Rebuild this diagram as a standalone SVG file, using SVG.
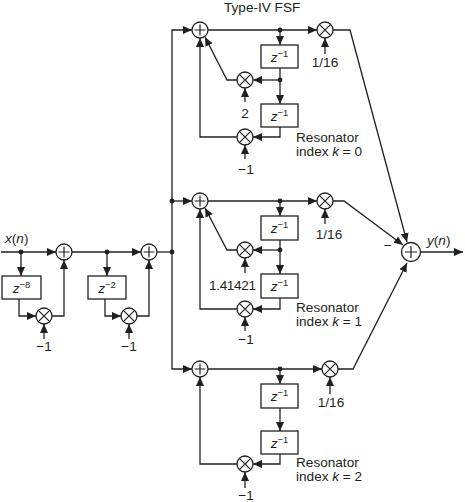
<svg xmlns="http://www.w3.org/2000/svg" width="465" height="502" viewBox="0 0 465 502">
<style>
.l{fill:none;stroke:#231f20;stroke-width:1.3}
.a{fill:none;stroke:#231f20;stroke-width:1.3;marker-end:url(#ah)}
.n{fill:#fff;stroke:#231f20;stroke-width:1.3}
.s{fill:none;stroke:#231f20;stroke-width:1.2}
.d{fill:#231f20}
text{font-family:"Liberation Sans",Arial,sans-serif;font-size:13.600px;fill:#231f20}
.i{font-style:italic}
.m{text-anchor:middle}
tspan.e{font-size:9.500px}
</style>
<defs>
<marker id="ah" markerUnits="userSpaceOnUse" markerWidth="10" markerHeight="10" refX="9" refY="5" orient="auto"><path d="M0 1L9 5L0 9Z" fill="#231f20"/></marker>
<g id="plus"><circle class="n" r="8"/><path class="s" d="M-5.500 0H5.500M0 -5.500V5.500"/></g>
<g id="times"><circle class="n" r="8"/><path class="s" d="M-5.700 -5.700L5.700 5.700M-5.700 5.700L5.700 -5.700"/></g>
</defs>
<g id="connectors">
<path class="a" d="M1 252H56"/>
<path class="a" d="M21 252V276"/>
<path class="a" d="M19 299V316H36"/>
<path class="a" d="M52 316H64V260"/>
<path class="a" d="M44 339V324"/>
<path class="a" d="M72 252H141"/>
<path class="a" d="M107 252V276"/>
<path class="a" d="M105 299V316H121"/>
<path class="a" d="M137 316H149V260"/>
<path class="a" d="M129 339V324"/>
<path class="l" d="M157 252H172"/>
<path class="a" d="M172 251V30H192"/>
<path class="a" d="M172 201H192"/>
<path class="a" d="M172 251V369H192"/>
<path class="a" d="M208 30H317"/>
<path class="a" d="M280 30V45"/>
<path class="a" d="M280 68V104"/>
<path class="a" d="M280 80H253"/>
<path class="a" d="M237 80H227L205 37"/>
<path class="a" d="M280 127V137H253"/>
<path class="a" d="M237 137H200V38"/>
<path class="a" d="M325 54V38"/>
<path class="a" d="M245 102V88"/>
<path class="a" d="M245 159V145"/>
<path class="a" d="M333 30H350L407 242"/>
<path class="a" d="M208 201H317"/>
<path class="a" d="M280 201V216"/>
<path class="a" d="M280 240V274"/>
<path class="a" d="M280 250H253"/>
<path class="a" d="M237 250H227L205 208"/>
<path class="a" d="M280 298V309H253"/>
<path class="a" d="M237 309H200V209"/>
<path class="a" d="M325 224V209"/>
<path class="a" d="M245 273V258"/>
<path class="a" d="M245 331V317"/>
<path class="a" d="M333 201H344L403 245"/>
<path class="a" d="M208 369H322"/>
<path class="a" d="M280 369V384"/>
<path class="a" d="M280 408V431"/>
<path class="a" d="M280 454V464H253"/>
<path class="a" d="M237 464H200V377"/>
<path class="a" d="M330 394V377"/>
<path class="a" d="M245 488V472"/>
<path class="a" d="M338 369H353L407 263"/>
<path class="a" d="M420 252H463"/>
</g>
<g id="dots">
<circle class="d" cx="21" cy="252" r="2.400"/><circle class="d" cx="107" cy="252" r="2.400"/><circle class="d" cx="172" cy="252" r="2.400"/><circle class="d" cx="172" cy="201" r="2.400"/>
<circle class="d" cx="280" cy="30" r="2.400"/><circle class="d" cx="280" cy="80" r="2.400"/>
<circle class="d" cx="280" cy="201" r="2.400"/><circle class="d" cx="280" cy="250" r="2.400"/>
<circle class="d" cx="280" cy="369" r="2.400"/>
</g>
<g id="add1"><use href="#plus" x="64" y="252"/></g>
<g id="add2"><use href="#plus" x="149" y="252"/></g>
<g id="add-k0"><use href="#plus" x="200" y="30"/></g>
<g id="add-k1"><use href="#plus" x="200" y="201"/></g>
<g id="add-k2"><use href="#plus" x="200" y="369"/></g>
<g id="add-out"><circle class="n" cx="411" cy="252" r="9.500"/><path class="s" d="M405 252H417M411 246V258"/></g>
<g id="mul1"><use href="#times" x="44" y="316"/><text class="m" x="44" y="351">−1</text></g>
<g id="mul2"><use href="#times" x="129" y="316"/><text class="m" x="129" y="351">−1</text></g>
<g id="mul-k0-out"><use href="#times" x="325" y="30"/><text class="m" x="325" y="67">1/16</text></g>
<g id="mul-k0-a"><use href="#times" x="245" y="80"/><text class="m" x="245" y="118">2</text></g>
<g id="mul-k0-b"><use href="#times" x="245" y="137"/><text class="m" x="246" y="174">−1</text></g>
<g id="mul-k1-out"><use href="#times" x="325" y="201"/><text class="m" x="329" y="239">1/16</text></g>
<g id="mul-k1-a"><use href="#times" x="245" y="250"/><text x="209" y="290" textLength="47">1.41421</text></g>
<g id="mul-k1-b"><use href="#times" x="245" y="309"/><text class="m" x="246" y="344">−1</text></g>
<g id="mul-k2-out"><use href="#times" x="330" y="369"/><text class="m" x="331" y="407">1/16</text></g>
<g id="mul-k2-b"><use href="#times" x="245" y="464"/><text class="m" x="246" y="500">−1</text></g>
<g id="delay8"><rect class="n" x="2" y="276" width="39" height="23"/><text class="m" x="21.500" y="293"><tspan class="i">z</tspan><tspan class="e" dy="-5">−8</tspan></text></g>
<g id="delay2"><rect class="n" x="88" y="276" width="38" height="23"/><text class="m" x="107" y="293"><tspan class="i">z</tspan><tspan class="e" dy="-5">−2</tspan></text></g>
<g id="z-k0-a"><rect class="n" x="261" y="45" width="37" height="23"/><text class="m" x="279.500" y="62"><tspan class="i">z</tspan><tspan class="e" dy="-5">−1</tspan></text></g>
<g id="z-k0-b"><rect class="n" x="261" y="104" width="37" height="23"/><text class="m" x="279.500" y="121"><tspan class="i">z</tspan><tspan class="e" dy="-5">−1</tspan></text></g>
<g id="z-k1-a"><rect class="n" x="261" y="216" width="37" height="24"/><text class="m" x="279.500" y="233"><tspan class="i">z</tspan><tspan class="e" dy="-5">−1</tspan></text></g>
<g id="z-k1-b"><rect class="n" x="261" y="274" width="37" height="24"/><text class="m" x="279.500" y="291"><tspan class="i">z</tspan><tspan class="e" dy="-5">−1</tspan></text></g>
<g id="z-k2-a"><rect class="n" x="261" y="384" width="37" height="24"/><text class="m" x="279.500" y="401"><tspan class="i">z</tspan><tspan class="e" dy="-5">−1</tspan></text></g>
<g id="z-k2-b"><rect class="n" x="261" y="431" width="37" height="23"/><text class="m" x="279.500" y="448"><tspan class="i">z</tspan><tspan class="e" dy="-5">−1</tspan></text></g>
<g id="labels">
<text x="224" y="12">Type-IV FSF</text>
<text x="5" y="243"><tspan class="i">x</tspan>(<tspan class="i">n</tspan>)</text>
<text x="427" y="245"><tspan class="i">y</tspan>(<tspan class="i">n</tspan>)</text>
<text x="384" y="250">−</text>
<text x="296" y="142">Resonator</text><text x="296" y="156">index <tspan class="i">k</tspan> = 0</text>
<text x="296" y="312">Resonator</text><text x="296" y="326">index <tspan class="i">k</tspan> = 1</text>
<text x="296" y="467">Resonator</text><text x="296" y="481">index <tspan class="i">k</tspan> = 2</text>
</g>
</svg>
